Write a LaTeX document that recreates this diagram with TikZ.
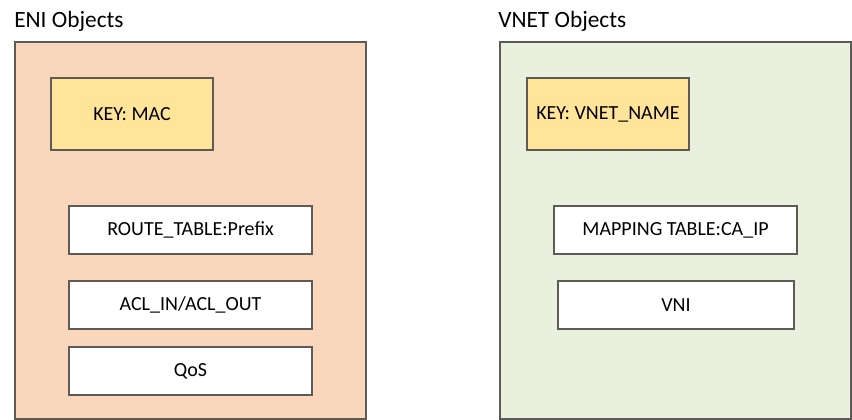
\documentclass[tikz,border=0pt]{standalone}
\usepackage{fontspec}
\setmainfont{Carlito}
\definecolor{enifill}{HTML}{FAD7BC}
\definecolor{vnetfill}{HTML}{E9F0DE}
\definecolor{keyfill}{HTML}{FFE499}
\definecolor{edge}{HTML}{5E5A55}
\begin{document}
\begin{tikzpicture}[x=0.75pt,y=-0.75pt,
  groupbox/.style={draw=edge,line width=0.9pt,minimum width=351*0.75pt,minimum height=377*0.75pt,inner sep=0pt},
  keybox/.style={draw=edge,fill=keyfill,line width=0.9pt,minimum width=162*0.75pt,minimum height=72*0.75pt,font=\fontsize{15pt}{17pt}\selectfont,inner sep=0pt},
  tabbox/.style={draw=edge,fill=white,line width=0.9pt,minimum height=48*0.75pt,font=\fontsize{15pt}{17pt}\selectfont,inner sep=0pt},
  title/.style={anchor=base west,font=\fontsize{17.5pt}{20pt}\selectfont,inner sep=0pt}]
\useasboundingbox[fill=white] (0,0) rectangle (852,420);
% group frames
\node[groupbox,fill=enifill] (eni) at (190.5,230.5) {};
\node[groupbox,fill=vnetfill] (vnet) at (675.5,230.5) {};
\node[title] (enit) at (14,28) {ENI Objects};
\node[title] (vnett) at (498,28) {VNET Objects};
% ENI contents
\node[keybox] (mac) at (132,114) {KEY: MAC};
\node[tabbox,minimum width=243*0.75pt] (route) at (190.5,230) {ROUTE\_TABLE:Prefix};
\node[tabbox,minimum width=243*0.75pt] (acl) at (190.5,305) {ACL\_IN/ACL\_OUT};
\node[tabbox,minimum width=243*0.75pt] (qos) at (190.5,371) {QoS};
% VNET contents
\node[keybox] (vname) at (608,114) {KEY: VNET\_NAME};
\node[tabbox,minimum width=243*0.75pt] (map) at (675.5,230) {MAPPING TABLE:CA\_IP};
\node[tabbox,minimum width=236*0.75pt] (vni) at (676,305) {VNI};
\end{tikzpicture}
\end{document}
